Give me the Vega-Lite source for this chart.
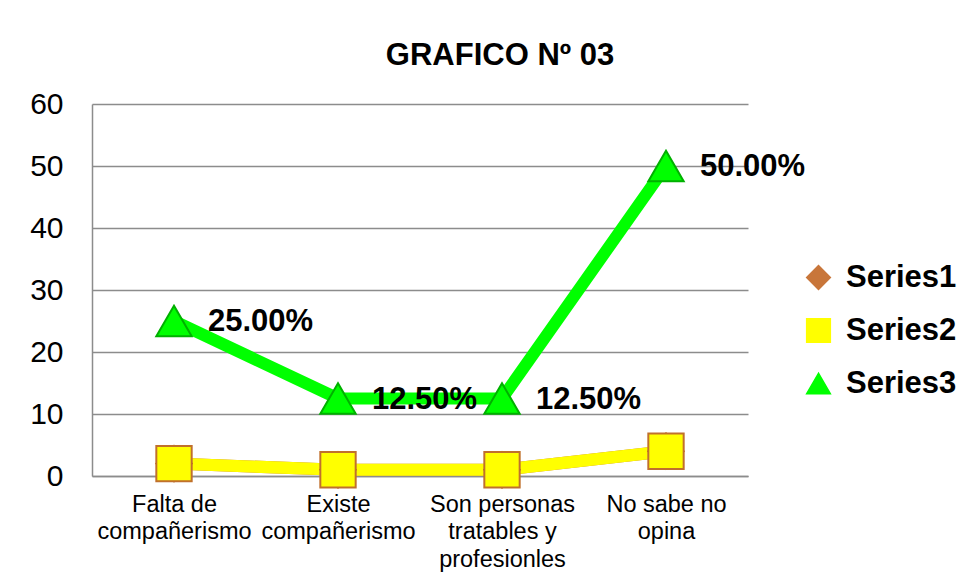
{
  "$schema": "https://vega.github.io/schema/vega-lite/v6.json",
  "autosize": "none",
  "width": 656,
  "height": 372,
  "padding": {"left": 92, "top": 104, "right": 226, "bottom": 107},
  "background": "white",
  "config": {
    "view": {"stroke": null},
    "font": "Liberation Sans"
  },
  "title": {
    "text": "GRAFICO Nº 03",
    "font": "Liberation Sans",
    "fontSize": 31,
    "fontWeight": "bold",
    "color": "#000000",
    "anchor": "middle",
    "dx": 80,
    "offset": 17
  },
  "data": {
    "values": [
      {"category": "Falta de|compañerismo", "series": "Series1", "value": 2, "label": ""},
      {"category": "Existe|compañerismo", "series": "Series1", "value": 1, "label": ""},
      {"category": "Son personas|tratables y|profesionles", "series": "Series1", "value": 1, "label": ""},
      {"category": "No sabe no|opina", "series": "Series1", "value": 4, "label": ""},
      {"category": "Falta de|compañerismo", "series": "Series2", "value": 2, "label": ""},
      {"category": "Existe|compañerismo", "series": "Series2", "value": 1, "label": ""},
      {"category": "Son personas|tratables y|profesionles", "series": "Series2", "value": 1, "label": ""},
      {"category": "No sabe no|opina", "series": "Series2", "value": 4, "label": ""},
      {"category": "Falta de|compañerismo", "series": "Series3", "value": 25, "label": "25.00%"},
      {"category": "Existe|compañerismo", "series": "Series3", "value": 12.5, "label": "12.50%"},
      {"category": "Son personas|tratables y|profesionles", "series": "Series3", "value": 12.5, "label": "12.50%"},
      {"category": "No sabe no|opina", "series": "Series3", "value": 50, "label": "50.00%"}
    ]
  },
  "encoding": {
    "x": {
      "field": "category",
      "type": "nominal",
      "sort": null,
      "title": null,
      "scale": {"paddingInner": 0, "paddingOuter": 0},
      "axis": {
        "labelAngle": 0,
        "labelExpr": "split(datum.label, '|')",
        "labelFont": "Liberation Sans",
        "labelFontSize": 23.5,
        "labelLineHeight": 27.5,
        "labelColor": "#000000",
        "labelPadding": 16,
        "labelBaseline": "top",
        "ticks": false,
        "domainColor": "#8c8c8c",
        "domainWidth": 1.5,
        "grid": false
      }
    },
    "y": {
      "field": "value",
      "type": "quantitative",
      "title": null,
      "scale": {"domain": [0, 60], "nice": false},
      "axis": {
        "values": [0, 10, 20, 30, 40, 50, 60],
        "labelFont": "Liberation Sans",
        "labelFontSize": 30,
        "labelColor": "#000000",
        "labelPadding": 29,
        "ticks": false,
        "domainColor": "#8c8c8c",
        "domainWidth": 1.5,
        "grid": true,
        "gridColor": "#8c8c8c",
        "gridWidth": 1.5
      }
    }
  },
  "layer": [
    {
      "mark": {"type": "line", "strokeWidth": 12, "strokeCap": "butt", "strokeJoin": "round"},
      "encoding": {
        "color": {
          "field": "series",
          "type": "nominal",
          "title": null,
          "scale": {"domain": ["Series1", "Series2", "Series3"], "range": ["#C8763A", "#FFFF00", "#00FF00"]},
          "legend": {
            "orient": "none",
            "legendX": 711,
            "legendY": 158,
            "labelFont": "Liberation Sans",
            "labelFontSize": 31,
            "labelFontWeight": "bold",
            "labelColor": "#000000",
            "symbolSize": 560,
            "rowPadding": 21,
            "labelOffset": 12
          }
        }
      }
    },
    {
      "mark": {"type": "point", "filled": true, "size": 1250, "strokeWidth": 2, "opacity": 1},
      "encoding": {
        "color": {"field": "series", "type": "nominal"},
        "shape": {
          "field": "series",
          "type": "nominal",
          "title": null,
          "legend": null,
          "scale": {"domain": ["Series1", "Series2", "Series3"], "range": ["diamond", "square", "triangle-up"]}
        },
        "stroke": {
          "field": "series",
          "type": "nominal",
          "scale": {"domain": ["Series1", "Series2", "Series3"], "range": ["#B0581E", "#C0702C", "#00B000"]},
          "legend": null
        }
      }
    },
    {
      "transform": [{"filter": "datum.label != ''"}],
      "mark": {"type": "text", "align": "left", "baseline": "middle", "dx": 34, "dy": 1, "font": "Liberation Sans", "fontSize": 31, "fontWeight": "bold", "color": "#000000"},
      "encoding": {
        "text": {"field": "label"}
      }
    }
  ]
}
